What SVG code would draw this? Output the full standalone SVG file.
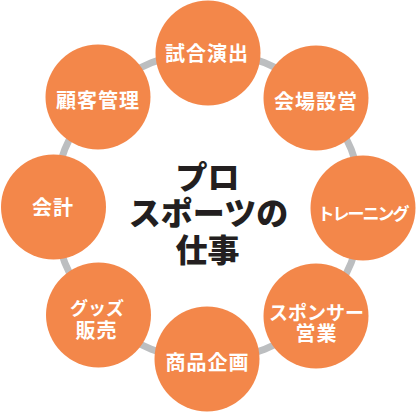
<svg xmlns="http://www.w3.org/2000/svg" width="416" height="412" viewBox="0 0 416 412">
<style>
.node circle{fill:#f3874a}
.node text{fill:#fff;font-family:"Noto Sans CJK JP","Noto Sans CJK SC",sans-serif;font-weight:700;font-size:20px;text-anchor:middle;dominant-baseline:central;letter-spacing:1px}
.title{fill:#231f20;font-family:"Noto Sans CJK JP","Noto Sans CJK SC",sans-serif;font-weight:900;font-size:32px;text-anchor:middle;dominant-baseline:central}
</style>
<rect width="416" height="412" fill="#fff"/>
<g id="connectors">
<circle cx="208" cy="206" r="154" fill="none" stroke="#bcbec0" stroke-width="7"/>
</g>
<g id="n-shiai" class="node"><circle cx="208" cy="53" r="52.5"/><text x="207" y="52.5">試合演出</text></g>
<g id="n-kaijo" class="node"><circle cx="316" cy="98" r="52.5"/><text x="316" y="100">会場設営</text></g>
<g id="n-training" class="node"><circle cx="363" cy="208" r="52.5"/><text x="362.5" y="212" style="font-size:17px;letter-spacing:-2px">トレーニング</text></g>
<g id="n-sponsor" class="node"><circle cx="316" cy="316" r="52.5"/><text x="316.5" y="311.5" style="font-size:19px;letter-spacing:0">スポンサー</text><text x="316.5" y="332.5">営業</text></g>
<g id="n-shohin" class="node"><circle cx="207" cy="359" r="52.5"/><text x="207.5" y="361">商品企画</text></g>
<g id="n-goods" class="node"><circle cx="98.5" cy="315" r="52.5"/><text x="97" y="306.5" style="font-size:18px;letter-spacing:0">グッズ</text><text x="96.5" y="329">販売</text></g>
<g id="n-kaikei" class="node"><circle cx="53.5" cy="207" r="52.5"/><text x="53" y="206.5">会計</text></g>
<g id="n-kokyaku" class="node"><circle cx="98" cy="97" r="52.5"/><text x="98" y="99">顧客管理</text></g>
<g id="center">
<text class="title" x="207.5" y="174.5">プロ</text>
<text class="title" x="208.5" y="211">スポーツの</text>
<text class="title" x="207.5" y="247.5">仕事</text>
</g>
</svg>
